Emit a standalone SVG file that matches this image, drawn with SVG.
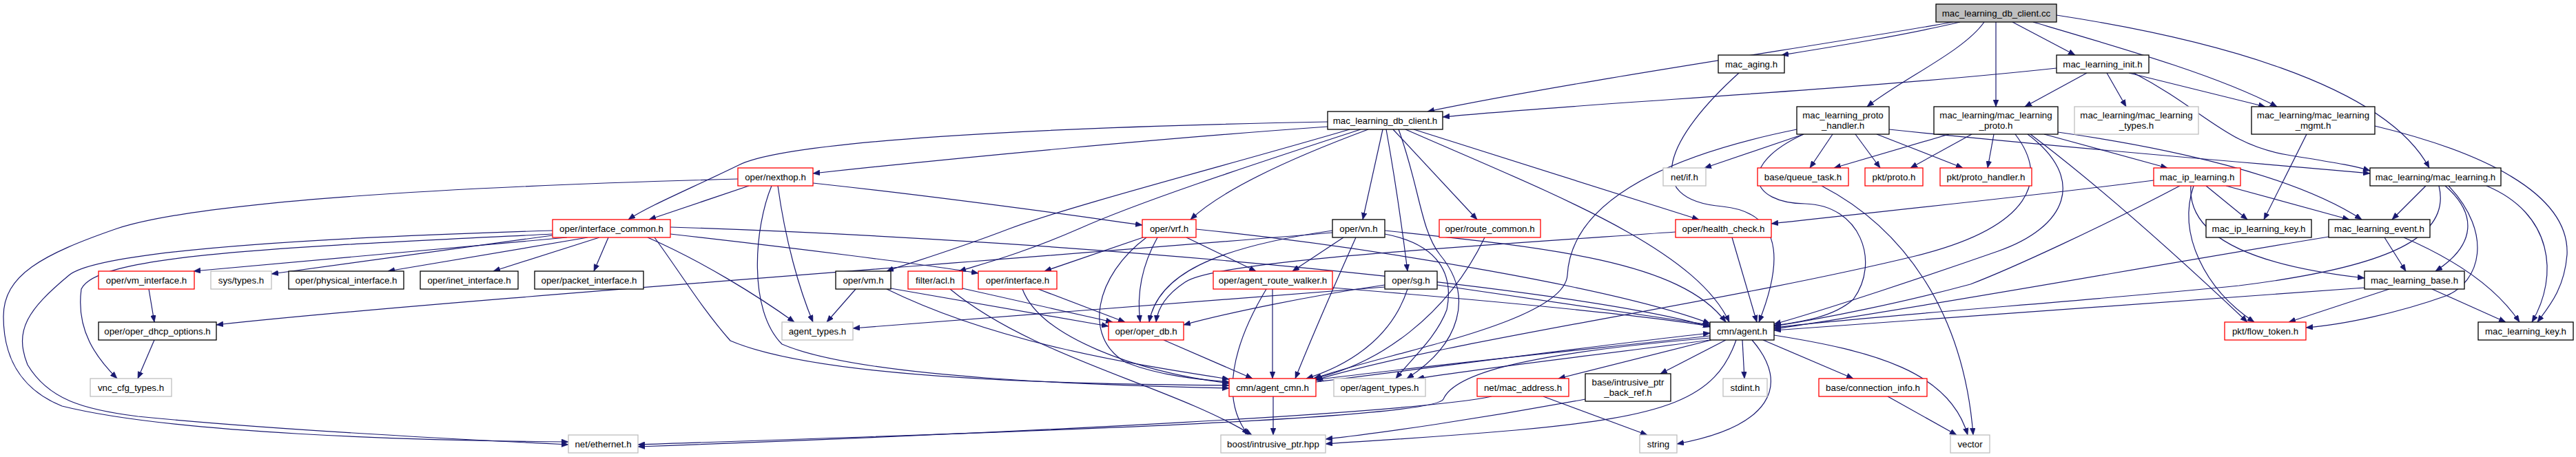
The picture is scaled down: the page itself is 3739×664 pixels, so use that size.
<svg xmlns="http://www.w3.org/2000/svg" width="3739" height="664" viewBox="0 0 3739 664">
<style>
.n rect{fill:#fff;stroke-width:1.3}
.blk rect{stroke:#000}
.red rect{stroke:#ff0000}
.gry rect{stroke:#bfbfbf}
.root rect{fill:#bfbfbf;stroke:#000}
text{font-family:"Liberation Sans",Arial,sans-serif;font-size:13.3px;text-anchor:middle;fill:#000}
#edges path{fill:none;stroke:#191970;stroke-width:1.2;marker-end:url(#a)}
</style>
<defs>
<marker id="a" markerUnits="userSpaceOnUse" markerWidth="11" markerHeight="8" refX="10" refY="4" orient="auto">
<path d="M0,0 L10,4 L0,8 z" fill="#191970" stroke="#191970" stroke-width="0.5"/>
</marker>
</defs>
<rect width="3739" height="664" fill="#fff"/>
<g id="edges">
<path d="M2835,32 C2650,65 2300,115 2072,162"/>
<path d="M2845,32 C2760,52 2660,68 2586,80"/>
<path d="M2880,32 C2850,75 2760,115 2710,155"/>
<path d="M2897,32 L2897,155"/>
<path d="M2921,32 L3012,80"/>
<path d="M2951,32 C3080,70 3220,110 3305,155"/>
<path d="M2985,22 C3200,55 3460,120 3526,244"/>
<path d="M2524,106 C2420,200 2380,290 2500,300 C2600,310 2580,400 2553,468"/>
<path d="M2985,99 C2700,130 2300,150 2094,170"/>
<path d="M3029,106 L2939,155"/>
<path d="M3058,106 L3086,155"/>
<path d="M3090,106 L3288,155"/>
<path d="M3097,106 C3200,160 3230,210 3320,225 C3380,235 3415,240 3440,248"/>
<path d="M1927,177 C1500,185 1140,205 1072,240 C1000,275 940,300 912,319"/>
<path d="M1927,184 C1700,200 1400,228 1180,252"/>
<path d="M1986,188 C1900,220 1780,270 1728,319"/>
<path d="M1959,188 C1800,235 1550,300 1466,332 C1380,365 1320,382 1287,394"/>
<path d="M1975,188 C1800,245 1650,295 1567,332 C1480,370 1420,385 1392,394"/>
<path d="M2007,188 L1978,319"/>
<path d="M2012,188 C2025,260 2035,330 2043,394"/>
<path d="M2022,188 L2144,319"/>
<path d="M2030,188 C2060,270 2062,335 2090,370 C2140,430 2120,500 2042,550"/>
<path d="M2040,188 C2250,280 2460,360 2510,468"/>
<path d="M2052,188 L2466,319"/>
<path d="M2618,195 L2474,244"/>
<path d="M2660,195 L2627,244"/>
<path d="M2693,195 L2729,244"/>
<path d="M2724,195 L2849,244"/>
<path d="M2742,188 C3000,215 3250,235 3440,252"/>
<path d="M2608,188 C2400,230 2280,300 2275,400 C2270,470 2000,515 1908,550"/>
<path d="M2618,195 C2520,240 2540,295 2620,296 C2700,298 2730,380 2690,435 C2660,462 2610,468 2575,473"/>
<path d="M2829,195 L2662,244"/>
<path d="M2862,195 L2773,244"/>
<path d="M2894,195 L2885,244"/>
<path d="M2967,195 L3146,244"/>
<path d="M2987,192 C3150,215 3330,255 3428,319"/>
<path d="M2947,195 C3060,280 3190,400 3262,468"/>
<path d="M2925,195 C2975,260 2950,330 2780,372 C2500,440 2100,495 1910,552"/>
<path d="M2943,195 C3030,260 3000,330 2900,365 C2800,400 2650,450 2575,471"/>
<path d="M3126,262 C2950,285 2750,305 2571,325"/>
<path d="M3164,270 C3050,330 2920,390 2860,413 C2760,440 2650,462 2575,474"/>
<path d="M3184,270 C3160,340 3200,420 3272,468"/>
<path d="M3180,270 C3175,340 3260,385 3432,404"/>
<path d="M3202,270 L3262,319"/>
<path d="M3231,270 L3410,319"/>
<path d="M3521,270 L3472,319"/>
<path d="M3549,270 C3595,310 3595,355 3535,394"/>
<path d="M3609,270 C3705,310 3715,400 3675,468"/>
<path d="M3554,270 C3620,340 3600,410 3550,430 C3480,455 3400,472 3347,476"/>
<path d="M3540,270 C3560,350 3450,390 3250,415 C3000,440 2700,460 2575,476"/>
<path d="M3461,345 L3492,394"/>
<path d="M3489,345 C3570,380 3625,420 3657,468"/>
<path d="M3380,344 C3100,390 2800,445 2575,478"/>
<path d="M3468,420 L3322,468"/>
<path d="M3530,420 L3637,468"/>
<path d="M3432,418 C3100,440 2800,462 2575,480"/>
<path d="M3348,195 L3286,319"/>
<path d="M3447,183 C3600,220 3730,280 3726,370 C3722,420 3700,445 3683,468"/>
<path d="M2644,270 C2760,330 2850,450 2864,632"/>
<path d="M2482,488 C2300,508 2100,528 1908,552"/>
<path d="M2482,494 C2300,518 2150,535 2057,550"/>
<path d="M2484,494 L2262,550"/>
<path d="M2505,494 L2410,543"/>
<path d="M2529,494 L2532,550"/>
<path d="M2543,494 C2600,560 2570,620 2434,645"/>
<path d="M2559,494 L2690,550"/>
<path d="M2520,494 C2490,580 2420,605 2200,625 C2050,638 1960,642 1924,645"/>
<path d="M2482,491 C2200,515 2110,545 2095,580 C2080,610 1400,630 926,646"/>
<path d="M2575,487 C2720,510 2830,540 2856,632"/>
<path d="M2165,576 C2050,600 1500,628 926,649"/>
<path d="M2240,576 L2391,632"/>
<path d="M2301,580 C2150,608 2000,630 1924,638"/>
<path d="M2740,576 L2840,632"/>
<path d="M1848,576 L1848,632"/>
<path d="M1910,555 C2150,525 2350,498 2482,484"/>
<path d="M1689,494 L1818,550"/>
<path d="M1847,420 L1847,550"/>
<path d="M1838,420 C1790,500 1770,580 1812,632"/>
<path d="M1934,418 C2200,440 2400,460 2482,474"/>
<path d="M1087,270 L942,319"/>
<path d="M1180,266 C1400,290 1550,312 1658,327"/>
<path d="M1129,270 C1140,350 1160,420 1180,468"/>
<path d="M1120,270 C1095,330 1085,450 1135,500 C1250,550 1600,560 1784,564"/>
<path d="M1071,260 C700,270 300,290 170,332 C60,370 5,400 5,460 C5,530 40,570 90,590 C250,630 600,640 825,642"/>
<path d="M823,345 L281,394"/>
<path d="M802,342 L394,398"/>
<path d="M853,345 L563,394"/>
<path d="M870,345 L716,394"/>
<path d="M883,345 L862,394"/>
<path d="M940,345 C1020,380 1100,430 1153,468"/>
<path d="M950,345 C990,400 1020,450 1060,495 C1200,555 1600,558 1784,560"/>
<path d="M802,340 C400,360 140,370 118,420 C110,480 140,520 170,550"/>
<path d="M802,335 C300,350 130,375 100,400 C40,450 20,480 40,530 C70,580 120,595 200,605 C400,625 700,640 825,646"/>
<path d="M973,340 C1150,360 1350,385 1420,397"/>
<path d="M973,330 C1600,350 2300,420 2482,475"/>
<path d="M1659,345 L1516,394"/>
<path d="M1680,345 C1655,390 1650,430 1655,468"/>
<path d="M1664,345 C1590,400 1570,490 1635,527 C1690,548 1750,552 1784,555"/>
<path d="M1722,345 L1823,394"/>
<path d="M1736,333 C2000,360 2350,420 2482,470"/>
<path d="M1950,345 L1876,394"/>
<path d="M1968,345 C1930,430 1900,500 1880,550"/>
<path d="M2010,335 C2250,360 2440,380 2505,468"/>
<path d="M2010,340 C2090,355 2110,400 2100,450 C2085,490 2050,520 2026,550"/>
<path d="M1934,335 C1760,360 1680,400 1668,468"/>
<path d="M1934,338 C1500,375 600,440 314,472"/>
<path d="M2155,345 C2100,460 2000,530 1906,550"/>
<path d="M2514,345 L2550,468"/>
<path d="M2432,337 C2100,360 1760,380 1720,410 C1690,430 1680,450 1678,468"/>
<path d="M2043,420 C2020,490 1960,530 1896,550"/>
<path d="M2086,414 L2482,472"/>
<path d="M2010,414 C1900,430 1780,455 1718,472"/>
<path d="M2010,417 C1700,440 1400,465 1238,477"/>
<path d="M1242,420 L1200,468"/>
<path d="M1293,419 L1609,474"/>
<path d="M1287,420 C1450,500 1650,530 1784,551"/>
<path d="M1379,420 C1500,520 1700,560 1817,632"/>
<path d="M1397,419 L1615,468"/>
<path d="M1507,420 L1633,468"/>
<path d="M1484,420 C1510,490 1650,540 1784,557"/>
<path d="M216,420 L224,468"/>
<path d="M224,494 L200,550"/>
</g>
<g id="n_cc" class="n root"><rect x="2810" y="6" width="175" height="26"/><text x="2897.5" y="23.7">mac_learning_db_client.cc</text></g>
<g id="n_mac_aging" class="n blk"><rect x="2494" y="80" width="96" height="26"/><text x="2542" y="97.7">mac_aging.h</text></g>
<g id="n_ml_init" class="n blk"><rect x="2985" y="80" width="134" height="26"/><text x="3052" y="97.7">mac_learning_init.h</text></g>
<g id="n_db_client_h" class="n blk"><rect x="1927" y="162" width="167" height="26"/><text x="2010.5" y="179.7">mac_learning_db_client.h</text></g>
<g id="n_proto_handler" class="n blk"><rect x="2608" y="155" width="134" height="40"/><text x="2675" y="171.5">mac_learning_proto</text><text x="2675" y="186.5">_handler.h</text></g>
<g id="n_ml_proto" class="n blk"><rect x="2807" y="155" width="180" height="40"/><text x="2897" y="171.5">mac_learning/mac_learning</text><text x="2897" y="186.5">_proto.h</text></g>
<g id="n_ml_types" class="n gry"><rect x="3011" y="155" width="180" height="40"/><text x="3101" y="171.5">mac_learning/mac_learning</text><text x="3101" y="186.5">_types.h</text></g>
<g id="n_ml_mgmt" class="n blk"><rect x="3268" y="155" width="179" height="40"/><text x="3357.5" y="171.5">mac_learning/mac_learning</text><text x="3357.5" y="186.5">_mgmt.h</text></g>
<g id="n_nexthop" class="n red"><rect x="1071" y="244" width="109" height="26"/><text x="1125.5" y="261.7">oper/nexthop.h</text></g>
<g id="n_net_if" class="n gry"><rect x="2414" y="244" width="62" height="26"/><text x="2445" y="261.7">net/if.h</text></g>
<g id="n_queue_task" class="n red"><rect x="2551" y="244" width="132" height="26"/><text x="2617" y="261.7">base/queue_task.h</text></g>
<g id="n_pkt_proto" class="n red"><rect x="2707" y="244" width="84" height="26"/><text x="2749" y="261.7">pkt/proto.h</text></g>
<g id="n_pkt_proto_handler" class="n red"><rect x="2816" y="244" width="133" height="26"/><text x="2882.5" y="261.7">pkt/proto_handler.h</text></g>
<g id="n_mac_ip_learning" class="n red"><rect x="3126" y="244" width="126" height="26"/><text x="3189" y="261.7">mac_ip_learning.h</text></g>
<g id="n_mac_learning_h" class="n blk"><rect x="3440" y="244" width="190" height="26"/><text x="3535" y="261.7">mac_learning/mac_learning.h</text></g>
<g id="n_iface_common" class="n red"><rect x="802" y="319" width="171" height="26"/><text x="887.5" y="336.7">oper/interface_common.h</text></g>
<g id="n_vrf" class="n red"><rect x="1658" y="319" width="78" height="26"/><text x="1697" y="336.7">oper/vrf.h</text></g>
<g id="n_vn" class="n blk"><rect x="1934" y="319" width="76" height="26"/><text x="1972" y="336.7">oper/vn.h</text></g>
<g id="n_route_common" class="n red"><rect x="2089" y="319" width="147" height="26"/><text x="2162.5" y="336.7">oper/route_common.h</text></g>
<g id="n_health_check" class="n red"><rect x="2432" y="319" width="139" height="26"/><text x="2501.5" y="336.7">oper/health_check.h</text></g>
<g id="n_mac_ip_key" class="n blk"><rect x="3202" y="319" width="153" height="26"/><text x="3278.5" y="336.7">mac_ip_learning_key.h</text></g>
<g id="n_ml_event" class="n blk"><rect x="3380" y="319" width="147" height="26"/><text x="3453.5" y="336.7">mac_learning_event.h</text></g>
<g id="n_vm_interface" class="n red"><rect x="143" y="394" width="139" height="26"/><text x="212.5" y="411.7">oper/vm_interface.h</text></g>
<g id="n_sys_types" class="n gry"><rect x="306" y="394" width="88" height="26"/><text x="350" y="411.7">sys/types.h</text></g>
<g id="n_physical" class="n blk"><rect x="419" y="394" width="167" height="26"/><text x="502.5" y="411.7">oper/physical_interface.h</text></g>
<g id="n_inet" class="n blk"><rect x="610" y="394" width="142" height="26"/><text x="681" y="411.7">oper/inet_interface.h</text></g>
<g id="n_packet" class="n blk"><rect x="776" y="394" width="158" height="26"/><text x="855" y="411.7">oper/packet_interface.h</text></g>
<g id="n_vm" class="n blk"><rect x="1213" y="394" width="80" height="26"/><text x="1253" y="411.7">oper/vm.h</text></g>
<g id="n_acl" class="n red"><rect x="1318" y="394" width="79" height="26"/><text x="1357.5" y="411.7">filter/acl.h</text></g>
<g id="n_interface" class="n red"><rect x="1420" y="394" width="114" height="26"/><text x="1477" y="411.7">oper/interface.h</text></g>
<g id="n_route_walker" class="n red"><rect x="1761" y="394" width="173" height="26"/><text x="1847.5" y="411.7">oper/agent_route_walker.h</text></g>
<g id="n_sg" class="n blk"><rect x="2010" y="394" width="76" height="26"/><text x="2048" y="411.7">oper/sg.h</text></g>
<g id="n_ml_base" class="n blk"><rect x="3432" y="394" width="145" height="26"/><text x="3504.5" y="411.7">mac_learning_base.h</text></g>
<g id="n_dhcp" class="n blk"><rect x="143" y="468" width="171" height="26"/><text x="228.5" y="485.7">oper/oper_dhcp_options.h</text></g>
<g id="n_agent_types" class="n gry"><rect x="1135" y="468" width="103" height="26"/><text x="1186.5" y="485.7">agent_types.h</text></g>
<g id="n_oper_db" class="n red"><rect x="1609" y="468" width="109" height="26"/><text x="1663.5" y="485.7">oper/oper_db.h</text></g>
<g id="n_agent" class="n blk"><rect x="2482" y="468" width="93" height="26"/><text x="2528.5" y="485.7">cmn/agent.h</text></g>
<g id="n_flow_token" class="n red"><rect x="3229" y="468" width="118" height="26"/><text x="3288" y="485.7">pkt/flow_token.h</text></g>
<g id="n_ml_key" class="n blk"><rect x="3597" y="468" width="138" height="26"/><text x="3666" y="485.7">mac_learning_key.h</text></g>
<g id="n_vnc" class="n gry"><rect x="131" y="550" width="118" height="26"/><text x="190" y="567.7">vnc_cfg_types.h</text></g>
<g id="n_agent_cmn" class="n red"><rect x="1784" y="550" width="126" height="26"/><text x="1847" y="567.7">cmn/agent_cmn.h</text></g>
<g id="n_oper_agent_types" class="n gry"><rect x="1936" y="550" width="133" height="26"/><text x="2002.5" y="567.7">oper/agent_types.h</text></g>
<g id="n_mac_address" class="n red"><rect x="2144" y="550" width="133" height="26"/><text x="2210.5" y="567.7">net/mac_address.h</text></g>
<g id="n_back_ref" class="n blk"><rect x="2301" y="543" width="124" height="40"/><text x="2363" y="560">base/intrusive_ptr</text><text x="2363" y="575">_back_ref.h</text></g>
<g id="n_stdint" class="n gry"><rect x="2501" y="550" width="64" height="26"/><text x="2533" y="567.7">stdint.h</text></g>
<g id="n_conn_info" class="n red"><rect x="2640" y="550" width="157" height="26"/><text x="2718.5" y="567.7">base/connection_info.h</text></g>
<g id="n_ethernet" class="n gry"><rect x="825" y="632" width="101" height="26"/><text x="875.5" y="649.7">net/ethernet.h</text></g>
<g id="n_boost_ptr" class="n gry"><rect x="1772" y="632" width="152" height="26"/><text x="1848" y="649.7">boost/intrusive_ptr.hpp</text></g>
<g id="n_string" class="n gry"><rect x="2380" y="632" width="54" height="26"/><text x="2407" y="649.7">string</text></g>
<g id="n_vector" class="n gry"><rect x="2831" y="632" width="57" height="26"/><text x="2859.5" y="649.7">vector</text></g>
</svg>
